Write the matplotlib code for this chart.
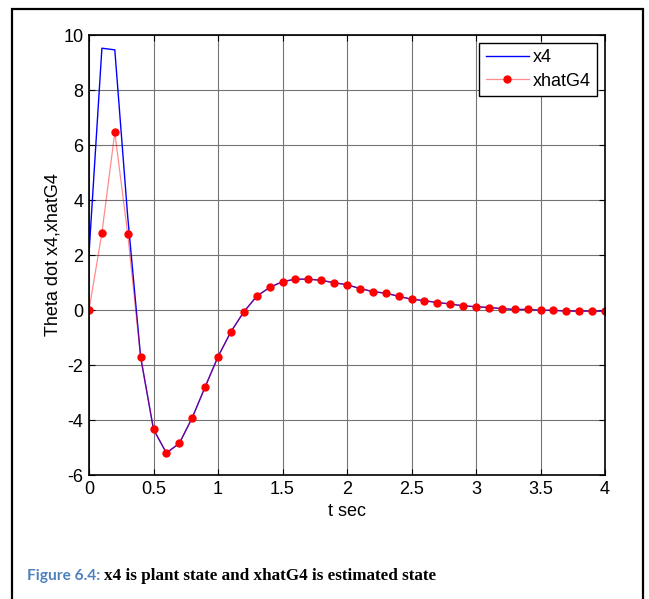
import matplotlib
matplotlib.use("Agg")
import matplotlib.pyplot as plt
from matplotlib.patches import Rectangle
import numpy as np

t = [round(0.1 * i, 1) for i in range(41)]
x4 = [2.05, 9.52, 9.46, 3.4, -1.70, -4.34, -5.20, -4.85, -3.92, -2.80,
      -1.70, -0.79, -0.07, 0.50, 0.82, 1.03, 1.12, 1.12, 1.08, 0.99,
      0.92, 0.78, 0.67, 0.61, 0.50, 0.39, 0.34, 0.27, 0.22, 0.15,
      0.12, 0.09, 0.05, 0.02, 0.02, -0.01, -0.01, -0.04, -0.04, -0.04, -0.04]
xhatG4 = [0.0, 2.80, 6.46, 2.77, -1.70, -4.34, -5.20, -4.85, -3.92, -2.80,
          -1.70, -0.79, -0.07, 0.50, 0.82, 1.03, 1.12, 1.12, 1.08, 0.99,
          0.92, 0.78, 0.67, 0.61, 0.50, 0.39, 0.34, 0.27, 0.22, 0.15,
          0.12, 0.09, 0.05, 0.02, 0.02, -0.01, -0.01, -0.04, -0.04, -0.04, -0.04]
xticks = [0, 0.5, 1, 1.5, 2, 2.5, 3, 3.5, 4]
xticklabels = ["0", "0.5", "1", "1.5", "2", "2.5", "3", "3.5", "4"]
yticks = [-6, -4, -2, 0, 2, 4, 6, 8, 10]
yticklabels = ["-6", "-4", "-2", "0", "2", "4", "6", "8", "10"]

W, H = 649, 599
fig = plt.figure(figsize=(W / 100, H / 100), dpi=100)
fig.patch.set_facecolor("white")
plt.rcParams['font.family'] = ['Liberation Sans', 'DejaVu Sans']

# outer border box
fig.add_artist(Rectangle((12 / W, -0.05), (643 - 12) / W, 1 - 9 / H + 0.05,
                         transform=fig.transFigure, fill=False,
                         edgecolor="black", linewidth=1.6))

ax = fig.add_axes([89 / W, 1 - 475 / H, (605 - 89) / W, (475 - 35) / H])
ax.plot(t, x4, color="blue", linewidth=1.0, label="x4")
ax.plot(t, xhatG4, color=(1, 0, 0, 0.45), linewidth=0.9, marker="o",
        markersize=5, markerfacecolor="red", markeredgecolor="red",
        label="xhatG4")
ax.set_xlim(0, 4)
ax.set_ylim(-6, 10)
ax.set_xticks(xticks)
ax.set_xticklabels(xticklabels)
ax.set_yticks(yticks)
ax.set_yticklabels(yticklabels)
ax.tick_params(direction="in", top=True, right=True, labelsize=13,
               length=4, width=0.8, pad=4)
ax.grid(True, color="0.45", linewidth=0.8)
for s in ax.spines.values():
    s.set_linewidth(1.2)
ax.set_xlabel("t sec", fontsize=13, labelpad=4)
ax.set_ylabel("Theta dot x4,xhatG4", fontsize=13, labelpad=1)
leg = ax.legend(loc="upper right", fontsize=13, frameon=True, fancybox=False,
                edgecolor="black", framealpha=1, handlelength=2.4,
                borderpad=0.35, labelspacing=0.35, handletextpad=0.2,
                borderaxespad=0.45)
leg.get_frame().set_linewidth(1.0)

# caption
t1 = fig.text(27 / W, 1 - 576 / H, "Figure 6.4:", color="#4F81BD",
              fontsize=11.2, fontweight="bold", family=["Lato", "DejaVu Sans"],
              va="center", ha="left")
fig.canvas.draw()
bb = t1.get_window_extent()
fig.text((bb.x1 + 4) / W, 1 - 576 / H,
         "x4 is plant state and xhatG4 is estimated state",
         color="black", fontsize=12.3, fontweight="bold",
         family=["Liberation Serif", "DejaVu Serif"], va="center", ha="left")

fig.savefig("out.png", dpi=100)
